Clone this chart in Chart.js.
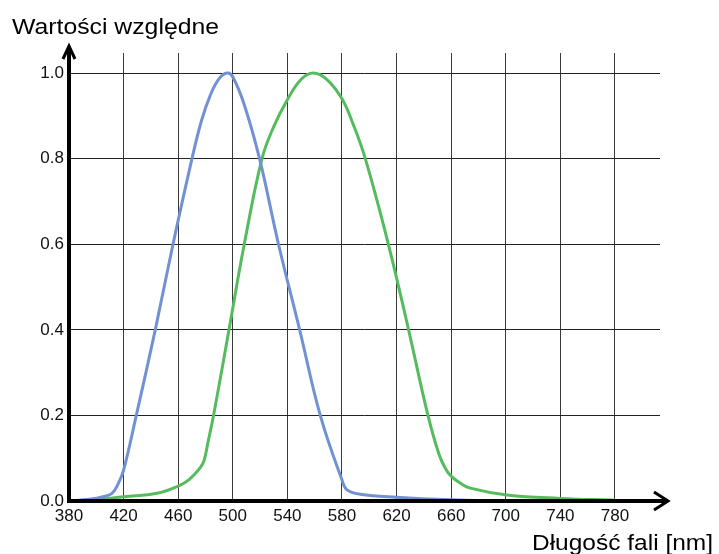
<!DOCTYPE html>
<html>
<head>
<meta charset="utf-8">
<script src="https://cdn.jsdelivr.net/npm/chart.js@4/dist/chart.umd.min.js"></script>
<style>
    html, body { margin: 0; padding: 0; background: #fff; }
    #wrap { width: 719px; height: 554px; }
</style>
</head>
<body>
<div id="wrap"><canvas id="chartContainer"></canvas></div>
<script>
// Dane (długość fali w nm, wartość względna)
const blueWavelengths = [380, 395, 405, 411.5, 416, 420, 429.3, 443.2, 456.2, 470.1, 477, 483.5, 490, 496, 500, 508, 519.6, 533.5, 549, 564.1, 580, 583.7, 593.4, 620, 660, 700];
const blueValues = [0.0, 0.004, 0.01, 0.018, 0.04, 0.072, 0.2, 0.4, 0.6, 0.8, 0.888, 0.948, 0.987, 1.0, 0.991, 0.93, 0.8, 0.6, 0.4, 0.2, 0.049, 0.026, 0.016, 0.009, 0.003, 0.0];

const greenWavelengths = [380, 400, 420, 444.5, 460, 468, 476.2, 479, 482, 485.9, 497.2, 508.4, 521.4, 530, 540, 550, 559, 569, 580, 588, 597.1, 614, 628.8, 643, 651, 656, 660, 666, 674, 701, 740, 780];
const greenValues = [0.0, 0.003, 0.01, 0.018, 0.035, 0.05, 0.078, 0.095, 0.14, 0.2, 0.4, 0.6, 0.8, 0.875, 0.938, 0.985, 1.0, 0.985, 0.94, 0.882, 0.8, 0.6, 0.4, 0.2, 0.11, 0.075, 0.058, 0.043, 0.03, 0.014, 0.006, 0.002];

const xTickValues = [380, 420, 460, 500, 540, 580, 620, 660, 700, 740, 780];
const yTickValues = [0, 0.2, 0.4, 0.6, 0.8, 1.0];

const yTitle = 'Wartości względne';
const xTitle = 'Długość fali [nm]';

const FONT = '"Liberation Sans", Arial, sans-serif';

// tekst lekko rozciągnięty w poziomie, żeby miał szerokość jak na oryginale
function stretchedText(ctx, text, x, y, width, align) {
    const w = ctx.measureText(text).width;
    const k = width / w;
    ctx.save();
    ctx.translate(align === 'right' ? x - width : x, y);
    ctx.scale(k, 1);
    ctx.textAlign = 'left';
    ctx.fillText(text, 0, 0);
    ctx.restore();
}

// Osie ze strzałkami i podpisy rysowane ręcznie
const axesPlugin = {
    id: 'axesArrows',
    afterDatasetsDraw(chart) {
        const ctx = chart.ctx;
        const a = chart.chartArea;
        ctx.save();
        ctx.strokeStyle = '#000';
        ctx.lineWidth = 4;
        ctx.lineCap = 'butt';

        // oś X
        ctx.beginPath();
        ctx.moveTo(a.left - 2, a.bottom);
        ctx.lineTo(a.right + 7, a.bottom);
        ctx.stroke();
        ctx.lineWidth = 3;
        ctx.beginPath();
        ctx.moveTo(a.right - 6, a.bottom - 9);
        ctx.lineTo(a.right + 8, a.bottom);
        ctx.lineTo(a.right - 6, a.bottom + 9);
        ctx.stroke();

        // oś Y
        ctx.lineWidth = 4;
        ctx.beginPath();
        ctx.moveTo(a.left, a.bottom + 2);
        ctx.lineTo(a.left, a.top - 6);
        ctx.stroke();
        ctx.lineWidth = 3;
        ctx.beginPath();
        ctx.moveTo(a.left - 6, a.top + 6);
        ctx.lineTo(a.left, a.top - 7);
        ctx.lineTo(a.left + 6, a.top + 6);
        ctx.stroke();

        // podpisy osi
        ctx.fillStyle = '#000';
        ctx.font = '22px ' + FONT;
        ctx.textBaseline = 'alphabetic';
        stretchedText(ctx, yTitle, 12, 34, 207, 'left');
        stretchedText(ctx, xTitle, 713, 550, 181, 'right');
        ctx.restore();
    }
};

const ctxChart = document.getElementById('chartContainer').getContext('2d');

const chart = new Chart(ctxChart, {
    type: 'line',
    data: {
        datasets: [
            {
                label: 'niebieska',
                data: blueWavelengths.map((x, i) => ({ x: x, y: blueValues[i] })),
                borderColor: '#7191d3',
                borderWidth: 3,
                pointRadius: 0,
                fill: false,
                tension: 0.4
            },
            {
                label: 'zielona',
                data: greenWavelengths.map((x, i) => ({ x: x, y: greenValues[i] })),
                borderColor: '#55bc5e',
                borderWidth: 3,
                pointRadius: 0,
                fill: false,
                tension: 0.4
            }
        ]
    },
    options: {
        responsive: true,
        maintainAspectRatio: false,
        animation: false,
        layout: {
            padding: { left: 0, right: 59, top: 53, bottom: 0 }
        },
        plugins: {
            legend: { display: false },
            tooltip: { enabled: false }
        },
        scales: {
            x: {
                type: 'linear',
                min: 380,
                max: 813,
                afterBuildTicks: (scale) => {
                    scale.ticks = xTickValues.map(v => ({ value: v }));
                },
                afterFit: (scale) => { scale.height = 53; },
                border: { display: false },
                grid: { color: '#3a3a3a', lineWidth: 1, drawTicks: false },
                ticks: {
                    color: '#111',
                    font: { family: FONT, size: 17 },
                    padding: 5,
                    maxRotation: 0,
                    autoSkip: false
                }
            },
            y: {
                min: 0,
                max: 1.047,
                afterBuildTicks: (scale) => {
                    scale.ticks = yTickValues.map(v => ({ value: v }));
                },
                afterFit: (scale) => { scale.width = 69; },
                border: { display: false },
                grid: { color: '#222', lineWidth: 1, drawTicks: false },
                ticks: {
                    color: '#111',
                    font: { family: FONT, size: 17 },
                    padding: 5,
                    callback: (v) => Number(v).toFixed(1)
                }
            }
        }
    },
    plugins: [axesPlugin]
});
</script>
</body>
</html>
